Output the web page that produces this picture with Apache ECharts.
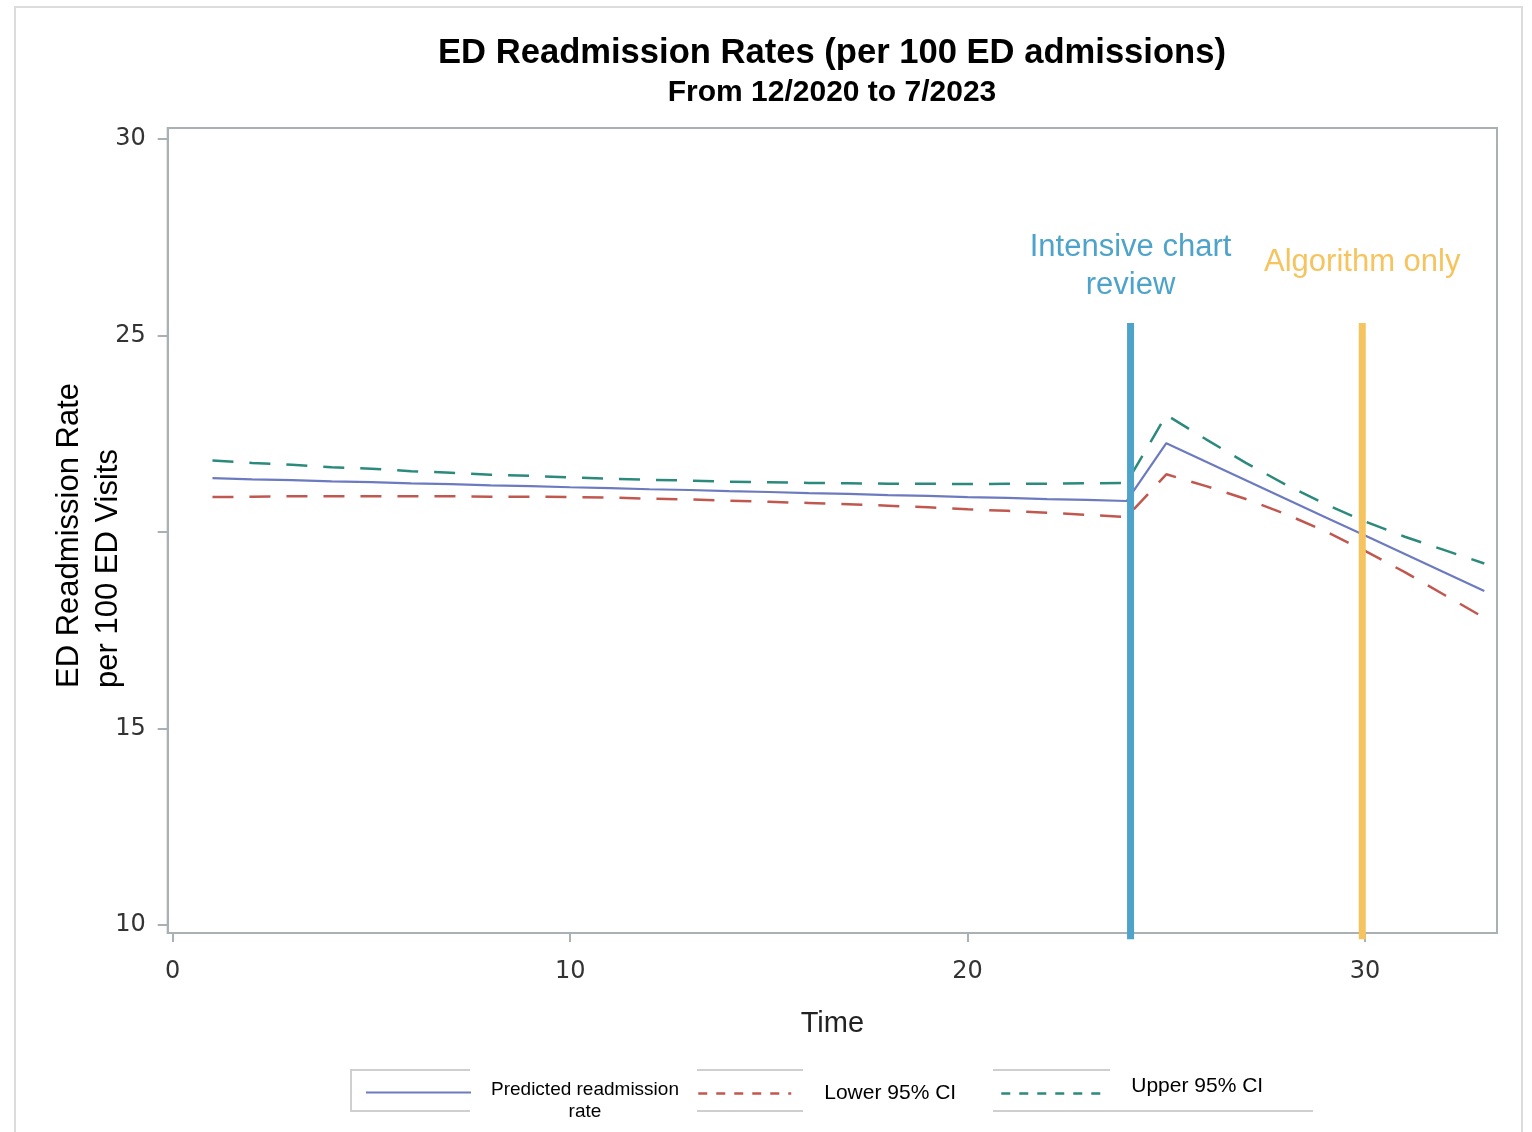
<!DOCTYPE html>
<html><head><meta charset="utf-8">
<script src="https://cdn.jsdelivr.net/npm/echarts@6/dist/echarts.min.js"></script>
<style>html,body{margin:0;padding:0;background:#fff}#c{width:1532px;height:1132px}</style>
</head><body><div id="c"></div>
<script>
// ---- data ----
const time = [1,2,3,4,5,6,7,8,9,10,11,12,13,14,15,16,17,18,19,20,21,22,23,24,25,26,27,28,29,30,31,32,33];
const predicted = [21.37,21.34,21.32,21.29,21.27,21.24,21.22,21.19,21.17,21.14,21.12,21.09,21.07,21.04,21.02,20.99,20.97,20.94,20.92,20.89,20.87,20.84,20.82,20.79,
                   22.26,21.79,21.32,20.85,20.38,19.91,19.44,18.97,18.50];
const lowerCI = [20.89,20.90,20.91,20.91,20.91,20.91,20.91,20.90,20.90,20.89,20.88,20.85,20.83,20.80,20.77,20.74,20.71,20.67,20.63,20.58,20.54,20.49,20.44,20.38,
                 21.47,21.17,20.84,20.46,20.02,19.52,18.98,18.40,17.82];
const upperCI = [21.82,21.76,21.71,21.65,21.61,21.55,21.51,21.46,21.43,21.39,21.36,21.33,21.31,21.28,21.27,21.25,21.24,21.23,21.23,21.22,21.23,21.23,21.24,21.25,
                 22.98,22.36,21.76,21.21,20.71,20.27,19.88,19.54,19.20];
const seriesNames = ['Predicted readmission rate', 'Lower 95% CI', 'Upper 95% CI'];
const phaseLabels = ['Intensive chart\nreview', 'Algorithm only'];
const phaseTimes = [24.1, 29.93];
const phaseTop = 25.32, phaseBottom = 9.64;
const yTickValues = [10, 15, 20, 25, 30];
const yLabelValues = [10, 15, 25, 30];
const xTickValues = [0, 10, 20, 30];
const titleText = 'ED Readmission Rates (per 100 ED admissions)';
const subtitleText = 'From 12/2020 to 7/2023';
const xTitle = 'Time';
const yTitleLines = ['ED Readmission Rate', 'per 100 ED Visits'];

// ---- styling ----
const FONT = "'Liberation Sans', Arial, sans-serif";
const C_PRED = '#6c7abf', C_LOW = '#c0584f', C_UP = '#2b8a7c';
const C_PHASE = ['#4da3c9', '#f6c45f'];
const FRAME = '#a9b1b5';

const chart = echarts.init(document.getElementById('c'), null, {renderer: 'canvas'});
const pairs = arr => time.map((t, i) => [t, arr[i]]);

const option = {
  backgroundColor: '#fff',
  animation: false,
  title: {
    text: titleText, subtext: subtitleText,
    left: 827, top: 31, textAlign: 'center', itemGap: 7,
    textStyle: {fontFamily: FONT, fontSize: 34.6, fontWeight: 'bold', color: '#000'},
    subtextStyle: {fontFamily: FONT, fontSize: 30, fontWeight: 'bold', color: '#000'}
  },
  grid: {left: 167.7, top: 128, right: 35, bottom: 199, show: true, borderColor: FRAME, borderWidth: 2, containLabel: false},
  xAxis: {
    type: 'value', min: -0.126, max: 33.32,
    name: xTitle, nameLocation: 'middle', nameGap: 76,
    nameTextStyle: {fontFamily: FONT, fontSize: 29, color: '#222'},
    axisLine: {show: true, onZero: false, lineStyle: {color: FRAME, width: 2}},
    axisTick: {show: true, length: 9, customValues: xTickValues, lineStyle: {color: FRAME, width: 2}},
    axisLabel: {customValues: xTickValues, margin: 27, fontFamily: "'DejaVu Sans', sans-serif", fontSize: 24, color: '#333'},
    splitLine: {show: false}
  },
  yAxis: {
    type: 'value', min: 9.8, max: 30.28,
    name: '{a|' + yTitleLines[0] + '}\n{a|' + yTitleLines[1] + '}',
    nameLocation: 'middle', nameRotate: 90, nameGap: 40, nameMoveOverlap: false,
    nameTextStyle: {padding: [0, 10, 0, 0], rich: {a: {fontFamily: FONT, fontSize: 31, lineHeight: 39, align: 'left', color: '#000'}}},
    axisLine: {show: true, onZero: false, lineStyle: {color: FRAME, width: 2}},
    axisTick: {show: true, length: 10, customValues: yTickValues, lineStyle: {color: FRAME, width: 2}},
    axisLabel: {customValues: yLabelValues, margin: 22, fontFamily: "'DejaVu Sans', sans-serif", fontSize: 24, color: '#333'},
    splitLine: {show: false}
  },
  legend: [
    {data: [seriesNames[0]], left: 360, top: 1075, itemWidth: 105, itemHeight: 14,
     itemStyle: {color: 'rgba(0,0,0,0)', borderWidth: 0},
     formatter: () => '{a|Predicted readmission}\n{a|rate}',
     textStyle: {padding: [16, 0, 0, 15], rich: {a: {fontFamily: FONT, fontSize: 19, lineHeight: 22, align: 'center', color: '#000'}}}},
    {data: [seriesNames[1]], left: 692, top: 1078, itemWidth: 93, itemHeight: 14,
     itemStyle: {color: 'rgba(0,0,0,0)', borderWidth: 0},
     lineStyle: {type: [9, 9], width: 2.5},
     textStyle: {padding: [0, 0, 0, 28], fontFamily: FONT, fontSize: 21, color: '#000'}},
    {data: [seriesNames[2]], left: 995, top: 1071, itemWidth: 100, itemHeight: 14,
     itemStyle: {color: 'rgba(0,0,0,0)', borderWidth: 0},
     lineStyle: {type: [9, 9], width: 2.5},
     formatter: '{a|{name}}',
     textStyle: {padding: [0, 0, 14, 25], rich: {a: {fontFamily: FONT, fontSize: 21, color: '#000'}}}}
  ],
  series: [
    {name: seriesNames[0], type: 'line', data: pairs(predicted), symbol: 'none', z: 3,
     lineStyle: {color: C_PRED, width: 2.2}, itemStyle: {color: C_PRED}},
    {name: seriesNames[1], type: 'line', data: pairs(lowerCI), symbol: 'none', z: 2,
     lineStyle: {color: C_LOW, width: 2.5, type: [21, 16]}, itemStyle: {color: C_LOW}},
    {name: seriesNames[2], type: 'line', data: pairs(upperCI), symbol: 'none', z: 2,
     lineStyle: {color: C_UP, width: 2.5, type: [21, 16]}, itemStyle: {color: C_UP}},
    ...phaseTimes.map((t, i) => ({
      name: 'phase' + i, type: 'line', symbol: 'none', clip: false, silent: true, z: 5,
      data: [[t, phaseTop], [t, phaseBottom]],
      lineStyle: {color: C_PHASE[i], width: 7, cap: 'butt'}
    }))
  ]
};
chart.setOption(option);

// annotation texts placed through the chart's own scales
const g = [
  {type: 'rect', shape: {x: 15, y: 7, width: 1507, height: 1140}, style: {fill: 'none', stroke: '#dcdcdc', lineWidth: 2}, silent: true, z: -1},
  // legend frame pieces
  ...[[350,470,1070],[697,803,1070],[993,1110,1070],[350,470,1111],[697,803,1111],[993,1313,1111]].map(s => ({
    type: 'line', shape: {x1: s[0], y1: s[2], x2: s[1], y2: s[2]}, style: {stroke: '#cfcfcf', lineWidth: 2}, silent: true})),
  {type: 'line', shape: {x1: 351, y1: 1070, x2: 351, y2: 1111}, style: {stroke: '#cfcfcf', lineWidth: 2}, silent: true}
];
const labelOffsets = [19, 42];
phaseTimes.forEach((t, i) => {
  const p = chart.convertToPixel({gridIndex: 0}, [t, phaseTop]);
  g.push({type: 'text', x: p[0], y: p[1] - labelOffsets[i], silent: true,
    style: {text: phaseLabels[i], fill: C_PHASE[i], font: "31px 'Liberation Sans', Arial, sans-serif",
            align: 'center', verticalAlign: 'bottom', lineHeight: 38}});
});
chart.setOption({graphic: g});
</script>
</body></html>
